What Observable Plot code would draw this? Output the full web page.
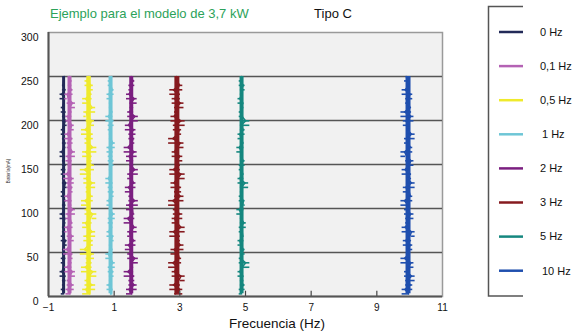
<!DOCTYPE html>
<html>
<head>
<meta charset="utf-8">
<script src="https://cdn.jsdelivr.net/npm/d3@7"></script>
<script src="https://cdn.jsdelivr.net/npm/@observablehq/plot@0.6"></script>
<style>
  html, body { margin: 0; padding: 0; background: #fff; }
  #chart { width: 584px; height: 334px; }
</style>
</head>
<body>
<div id="chart"></div>
<script>
// ---- data ----
const seriesNames = ["0 Hz", "0,1 Hz", "0,5 Hz", "1 Hz", "2 Hz", "3 Hz", "5 Hz", "10 Hz"];
const seriesColors = ["#222a58", "#b462b4", "#efea2c", "#6ec6d6", "#7b1f80", "#861a1f", "#15877f", "#1f4fae"];
const traceCenters = [-0.54, -0.36, 0.22, 0.89, 1.52, 2.91, 4.88, 9.95];
const traceBottom = 3;
const traceTop = 250;
const jitterUnit = 0.036;
const jit0 = [0,-2,1,-1,2,-3,0,1,-2,2,-1,0,3,-2,1,-1,0,2,-3,1,-1,2,0,-2,1,3,-1,0,-2,2,-1,1,-3,0,2,-1,1,-2,0,3,-1,2,-2,0,1,-3,2,-1,0,1];
const jit01 = [1,-3,4,-2,0,5,-4,2,-1,3,-5,1,0,4,-2,-4,3,1,-3,5,-1,2,-4,0,3,-2,4,-5,1,-1,2,-3,5,0,-2,3,-4,1,4,-1,-3,2,0,5,-2,-4,3,-1,2,0];
const jit05 = [2,-5,6,-3,1,7,-6,3,-2,5,-7,0,4,-4,6,-1,-5,3,7,-3,1,-6,4,0,-2,6,-4,2,-7,5,-1,3,-5,7,0,-3,4,-6,2,5,-2,-4,6,1,-5,3,-1,4,-3,0];
const jit1 = [0,2,-3,1,-1,3,-2,4,0,-4,2,-1,1,3,-3,0,2,-2,4,-1,1,-3,0,3,-2,2,-4,1,0,-1,3,-2,2,-3,4,0,-1,1,-2,3,-4,2,0,-1,1,-3,3,0,-2,1];
const jit2 = [1,-4,5,-2,3,-6,2,0,6,-3,1,-5,4,-1,-3,5,0,-6,3,2,-4,6,-2,1,-5,4,0,-3,6,-1,2,-4,5,-6,1,3,-2,4,-5,0,6,-3,2,-1,5,-4,1,-2,3,0];
const jit3 = [-2,5,-6,3,7,-4,1,-7,4,2,-5,6,-1,3,-6,7,0,-4,5,-3,2,-7,6,-2,4,-5,1,7,-6,3,-1,5,-4,0,6,-7,2,4,-3,7,-5,1,-2,6,-4,3,-6,5,0,-1];
const jit5 = [0,-2,3,-1,2,-3,1,7,-2,0,3,-1,-3,2,1,-2,4,-1,0,-4,2,3,-2,1,-1,6,-3,2,0,-2,3,-1,1,-4,2,0,-3,3,-1,7,1,-2,0,2,-3,1,-1,3,-2,0];
const jit10 = [1,-5,4,-2,6,-3,0,5,-6,2,-1,4,-4,3,6,-5,1,-2,5,-3,0,-6,4,2,-4,6,-1,3,-5,1,5,-2,-6,4,0,-3,6,-1,2,-4,5,-6,3,1,-2,4,-5,2,0,-3];
const jitters = [jit0, jit01, jit05, jit1, jit2, jit3, jit5, jit10];
const xTicks = [-1, 1, 3, 5, 7, 9, 11];
const yTicks = [0, 50, 100, 150, 200, 250, 300];
const gridLines = [50, 100, 150, 200, 250];

// ---- build tables ----
const hairs = [];
const points = [];
jitters.forEach((arr, s) => {
  const n = arr.length;
  const yAt = i => traceBottom + i * (traceTop - traceBottom) / (n - 1);
  arr.forEach((o, i) => {
    points.push({ series: seriesNames[s], x: traceCenters[s] + o * jitterUnit * 0.5, y: yAt(i) });
    if (i < n - 1) {
      hairs.push({
        series: seriesNames[s],
        x1: traceCenters[s] + o * jitterUnit,
        x2: traceCenters[s] + arr[i + 1] * jitterUnit,
        y: yAt(i)
      });
    }
  });
});
const cores = seriesNames.map((name, s) => ({ series: name, x: traceCenters[s], y1: traceBottom, y2: traceTop }));
const coreWidths = [3, 4, 4.5, 4, 4, 5, 4, 5];

const W = 584, H = 334;
const font = "'Liberation Sans', Arial, sans-serif";

const plot = Plot.plot({
  width: W,
  height: H,
  marginLeft: 48,
  marginRight: 142,
  marginTop: 32,
  marginBottom: 38,
  style: { fontFamily: font, background: "transparent", overflow: "visible" },
  x: { domain: [-1, 11], ticks: xTicks },
  y: { domain: [0, 300], ticks: yTicks },
  color: { domain: seriesNames, range: seriesColors },
  marks: [
    Plot.frame({ fill: "#f1f1f1", stroke: "#9a9a9a", strokeWidth: 1.5 }),
    Plot.ruleY(gridLines, { stroke: "#555", strokeWidth: 1.4 }),
    ...cores.map((c, s) => Plot.ruleX([c], { x: "x", y1: "y1", y2: "y2", stroke: "series", strokeWidth: coreWidths[s] })),
    Plot.line(points, { x: "x", y: "y", z: "series", stroke: "series", strokeWidth: 1.5 }),
    Plot.ruleY(hairs, { y: "y", x1: "x1", x2: "x2", stroke: "series", strokeWidth: 1.6 }),
    Plot.ruleX(xTicks.slice(1, -1), { y1: 0, y2: 6, stroke: "#444", strokeWidth: 1.2 }),
    Plot.ruleY([0], { stroke: "#555", strokeWidth: 2 }),
    Plot.ruleX([-1], { stroke: "#555", strokeWidth: 2 }),
    Plot.axisY({ ticks: yTicks, tickSize: 0, tickPadding: 10, dy: 5, fontSize: 10.5, fill: "#111", label: null }),
    Plot.axisX({ ticks: xTicks, tickSize: 0, tickPadding: 7, fontSize: 10, fill: "#111", label: null })
  ]
});

document.getElementById("chart").appendChild(plot);

// ---- titles, axis labels, legend ----
const svg = d3.select(plot);
svg.append("text").attr("x", 50).attr("y", 17.5).attr("text-anchor", "start")
  .attr("font-size", 13).attr("fill", "#2ca25a").attr("font-family", font)
  .text("Ejemplo para el modelo de 3,7 kW");
svg.append("text").attr("x", 333).attr("y", 17.5).attr("text-anchor", "middle")
  .attr("font-size", 13).attr("fill", "#111").attr("font-family", font)
  .text("Tipo C");
svg.append("text").attr("x", 277).attr("y", 327.5).attr("text-anchor", "middle")
  .attr("font-size", 13.5).attr("fill", "#111").attr("font-family", font)
  .text("Frecuencia (Hz)");
svg.append("text").attr("transform", "translate(10,171) rotate(-90)").attr("text-anchor", "middle")
  .attr("font-size", 4.5).attr("fill", "#333").attr("font-family", font)
  .text("Batería(mA)");

// legend bracket
svg.append("path").attr("d", "M523,6.5 H488.5 V296 H523")
  .attr("fill", "none").attr("stroke", "#555").attr("stroke-width", 1.5);
const lg = svg.append("g");
const legendLabelX = [540, 540, 540, 542, 540, 540, 540, 542];
seriesNames.forEach((name, i) => {
  const y = 32 + i * 34.1;
  lg.append("line").attr("x1", 499).attr("x2", 523).attr("y1", y).attr("y2", y)
    .attr("stroke", seriesColors[i]).attr("stroke-width", 2.5);
  lg.append("text").attr("x", legendLabelX[i]).attr("y", y).attr("dy", "0.35em")
    .attr("text-anchor", "start")
    .attr("font-size", 11).attr("fill", "#111").attr("font-family", font)
    .text(name);
});
</script>
</body>
</html>
